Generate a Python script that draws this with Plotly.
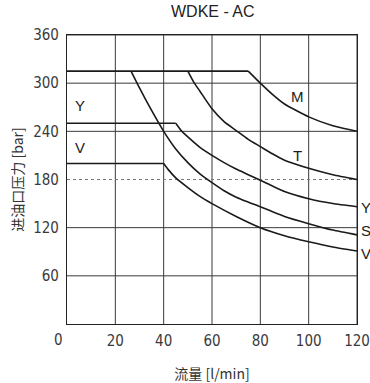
import plotly.graph_objects as go

# ---- data ----
title_text = "WDKE - AC"
x_title = "流量 [l/min]"
y_title = "进油口压力 [bar]"

x_ticks = [20, 40, 60, 80, 100, 120]
y_ticks = [60, 120, 180, 240, 300, 360]

# flat segments (x, y) and curved segments
m_flat_x = [0, 75]
m_flat_y = [315, 315]
m_x = [75, 80, 85, 90, 100, 110, 120]
m_y = [315, 300, 286, 274, 258, 247, 240]

t_x = [50, 52.5, 55, 60, 65, 70, 75, 80, 85, 90, 100, 110, 120]
t_y = [315, 301, 290, 268, 252, 241, 230, 221, 212, 204, 194, 186, 180]

s_x = [26.5, 30, 35, 40, 45, 50, 55, 60, 65, 70, 80, 90, 100, 110, 120]
s_y = [315, 294, 266, 240, 218, 201, 187, 176, 166, 158, 146, 134, 125, 117, 111]

y_flat_x = [0, 45]
y_flat_y = [250, 250]
y_x = [45, 47.5, 50, 55, 60, 65, 70, 75, 80, 90, 100, 110, 120]
y_y = [250, 240, 233, 220, 210, 201, 193, 186, 179, 165, 156, 150, 146]

v_flat_x = [0, 40]
v_flat_y = [200, 200]
v_x = [40, 42, 45, 50, 55, 60, 70, 80, 90, 100, 110, 120]
v_y = [200, 192, 182, 170, 159, 150, 134, 120, 110, 102.5, 96, 91]

inner_labels = ["M", "T", "Y", "V"]
inner_lx = [95.5, 95.5, 5.5, 5.5]
inner_ly = [283, 210, 272, 220]

end_labels = ["Y", "S", "V"]
end_ly = [145, 117, 88]

flats = [(m_flat_x, m_flat_y), (y_flat_x, y_flat_y), (v_flat_x, v_flat_y)]
curves = [(m_x, m_y), (t_x, t_y), (s_x, s_y), (y_x, y_y), (v_x, v_y)]

GRID = "#3a3a3a"
fig = go.Figure()

# grid lines from the tick arrays
for xv in x_ticks:
    fig.add_vline(x=xv, line=dict(color=GRID, width=1), layer="below")
for yv in y_ticks:
    if yv == 180:
        fig.add_hline(y=yv, line=dict(color="#777", width=1, dash="dot"), layer="below")
    else:
        fig.add_hline(y=yv, line=dict(color=GRID, width=1), layer="below")

for sx, sy in flats:
    fig.add_trace(go.Scatter(x=sx, y=sy, mode="lines",
                             line=dict(color="#1a1a1a", width=1.6),
                             showlegend=False, hoverinfo="skip"))
for sx, sy in curves:
    fig.add_trace(go.Scatter(x=sx, y=sy, mode="lines",
                             line=dict(color="#1a1a1a", width=1.6, shape="spline", smoothing=0.5),
                             showlegend=False, hoverinfo="skip"))

lab_font = dict(family="Liberation Sans, Arial, sans-serif", size=15, color="#1a1a1a")
for t, lx, ly in zip(inner_labels, inner_lx, inner_ly):
    fig.add_annotation(x=lx, y=ly, text=t, showarrow=False, font=lab_font)
for t, ly in zip(end_labels, end_ly):
    fig.add_annotation(x=120, y=ly, text=t, showarrow=False, font=lab_font,
                       xanchor="left", xshift=2)

tick_font = dict(family="DejaVu Sans Condensed, DejaVu Sans, sans-serif", size=15, color="#3a3a3a")
fig.add_annotation(x=0, y=0, yref="y", text="0", showarrow=False, font=tick_font,
                   xanchor="center", yanchor="top", xshift=-9, yshift=-5)

fig.update_layout(
    width=370, height=383,
    margin=dict(l=67, r=13, t=35, b=59, autoexpand=False),
    paper_bgcolor="white", plot_bgcolor="white",
    title=dict(text=title_text, x=0.575, xanchor="center", y=0.985, yanchor="top",
               font=dict(family="Liberation Sans, Arial, sans-serif", size=16, color="#222")),
    xaxis=dict(range=[0, 120], tickvals=x_ticks, ticktext=[str(v) for v in x_ticks],
               showgrid=False, automargin=False,
               showline=True, linecolor="#222", linewidth=1.2, mirror=True,
               ticks="", tickfont=tick_font, ticklabelstandoff=3,
               title=dict(text=x_title, font=dict(family="Noto Sans CJK SC, sans-serif", size=14, color="#333"), standoff=20),
               zeroline=False, fixedrange=True),
    yaxis=dict(range=[0, 360], tickvals=y_ticks, ticktext=[str(v) for v in y_ticks],
               showgrid=False, automargin=False,
               showline=True, linecolor="#222", linewidth=1.2, mirror=True,
               ticks="", tickfont=tick_font, ticklabelstandoff=4,
               title=dict(text=y_title, font=dict(family="Noto Sans CJK SC, sans-serif", size=14, color="#333"), standoff=6),
               zeroline=False, fixedrange=True),
)

fig.write_html("out.html")
